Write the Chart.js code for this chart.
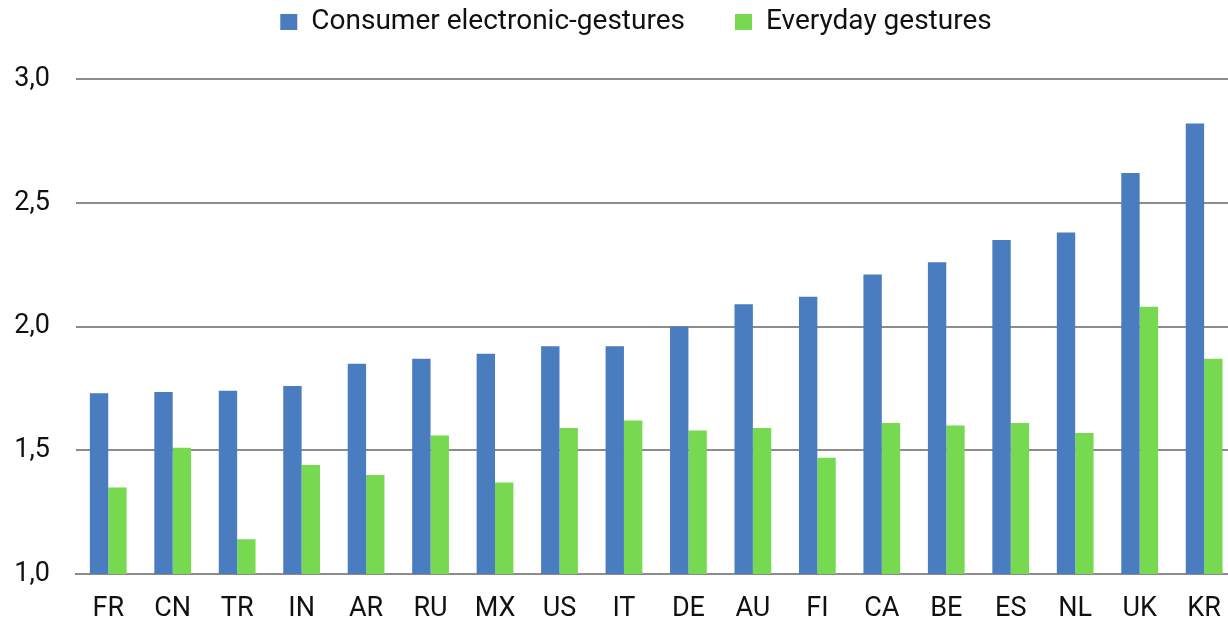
<!DOCTYPE html>
<html>
<head>
<meta charset="utf-8">
<script src="https://cdn.jsdelivr.net/npm/chart.js@4.4.1/dist/chart.umd.min.js"></script>
<style>
  html, body { margin: 0; padding: 0; background: #ffffff; overflow: hidden; }
  #wrap { position: relative; width: 1240px; height: 626px; }
</style>
</head>
<body>
<div id="wrap"><canvas id="c"></canvas></div>
<script>
const categories = ["FR","CN","TR","IN","AR","RU","MX","US","IT","DE","AU","FI","CA","BE","ES","NL","UK","KR"];
const consumerElectronic = [1.73,1.735,1.74,1.76,1.85,1.87,1.89,1.92,1.92,2.00,2.09,2.12,2.21,2.26,2.35,2.38,2.62,2.82];
const everyday = [1.35,1.51,1.14,1.44,1.40,1.56,1.37,1.59,1.62,1.58,1.59,1.47,1.61,1.60,1.61,1.57,2.08,1.87];
const seriesNames = ["Consumer electronic-gestures","Everyday gestures"];
const yTicks = [1.0,1.5,2.0,2.5,3.0];

const FONT = "Roboto, 'Liberation Sans', sans-serif";
const gridColor = "#8c8c8c";
const LEGEND_PAD = 50;

const legendPlacePlugin = {
  id: 'legendPlace',
  beforeInit(chart) {
    const lg = chart.legend;
    if (lg) {
      const orig = lg.fit;
      lg.fit = function() { orig.call(this); this.height = 79; };
    }
  },
  afterLayout(chart) {
    const lg = chart.legend;
    if (!lg) return;
    lg.top = 8 - LEGEND_PAD;
    lg.left += 13.5;
    lg.right += 13.5;
  }
};

new Chart(document.getElementById('c'), {
  type: 'bar',
  data: {
    labels: categories,
    datasets: [
      { label: seriesNames[0], data: consumerElectronic, backgroundColor: '#4a7cc0', borderWidth: 0 },
      { label: seriesNames[1], data: everyday, backgroundColor: '#76d94f', borderWidth: 0 }
    ]
  },
  options: {
    responsive: true,
    maintainAspectRatio: false,
    animation: false,
    events: [],
    layout: { padding: { left: 8, right: 3, top: 0, bottom: 0 } },
    datasets: { bar: { categoryPercentage: 0.57, barPercentage: 1.0 } },
    plugins: {
      tooltip: { enabled: false },
      legend: {
        position: 'top',
        align: 'center',
        labels: {
          font: { family: FONT, size: 28 },
          color: '#111111',
          boxWidth: 17,
          boxHeight: 16,
          padding: LEGEND_PAD
        }
      }
    },
    scales: {
      x: {
        afterFit(scale) { scale.height = 52; },
        grid: { display: false, drawTicks: false },
        border: { display: true, color: gridColor, width: 2 },
        ticks: { font: { family: FONT, size: 27 }, color: '#111111', padding: 19, maxRotation: 0, autoSkip: false }
      },
      y: {
        min: 1, max: 3,
        afterFit(scale) { scale.width = 68; },
        afterBuildTicks(scale) { scale.ticks = yTicks.map(v => ({ value: v })); },
        grid: { color: gridColor, lineWidth: 2, drawTicks: false },
        border: { display: false },
        ticks: {
          font: { family: FONT, size: 27 }, color: '#111111', padding: 26,
          callback: (v) => Number(v).toFixed(1).replace('.', ',')
        }
      }
    }
  },
  plugins: [legendPlacePlugin]
});
</script>
</body>
</html>
